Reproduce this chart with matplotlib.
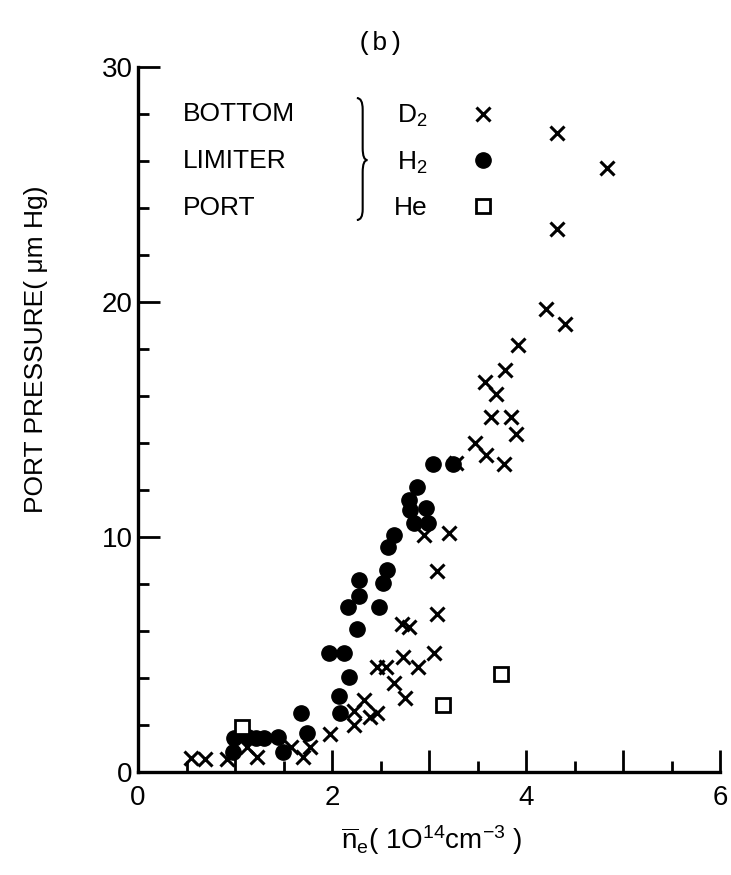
#! /usr/bin/env python3

import matplotlib
matplotlib.use("Agg")
import matplotlib.pyplot as plt
from matplotlib.ticker import MultipleLocator, FuncFormatter
from matplotlib.lines import Line2D
from matplotlib.path import Path
from matplotlib.patches import PathPatch

plt.rcParams['font.family'] = ['Liberation Sans', 'DejaVu Sans']
plt.rcParams['mathtext.default'] = 'regular'

# D2 (bottom) - crosses
d2_x = [0.55, 0.69, 0.92, 1.12, 1.23, 1.58, 1.70, 1.77, 1.98, 2.23, 2.23, 2.33,
        2.39, 2.46, 2.46, 2.56, 2.64, 2.75, 2.73, 2.89, 3.05, 2.72, 2.79, 3.08,
        3.08, 2.95, 3.21, 3.28, 3.47, 3.59, 3.77, 3.64, 3.84, 3.90, 3.58, 3.69,
        3.78, 3.92, 4.21, 4.40, 4.32, 4.32, 4.83]
d2_y = [0.6, 0.55, 0.57, 1.05, 0.62, 1.05, 0.62, 1.08, 1.6, 2.0, 2.6, 3.06,
        2.34, 2.5, 4.47, 4.47, 3.8, 3.16, 4.9, 4.47, 5.06, 6.3, 6.17, 6.72,
        8.55, 10.09, 10.17, 13.15, 14.0, 13.5, 13.1, 15.1, 15.1, 14.4, 16.6, 16.08,
        17.1, 18.17, 19.7, 19.06, 23.1, 27.2, 25.7]

# H2 (limiter) - filled circles
h2_x = [0.99, 0.98, 1.13, 1.22, 1.30, 1.44, 1.49, 1.68, 1.74, 1.97, 2.12, 2.17,
        2.07, 2.08, 2.16, 2.26, 2.28, 2.28, 2.48, 2.53, 2.57, 2.58, 2.64, 2.84,
        2.99, 2.80, 2.97, 2.79, 2.88, 3.04, 3.25]
h2_y = [1.45, 0.85, 1.48, 1.45, 1.45, 1.5, 0.85, 2.5, 1.65, 5.07, 5.07, 4.04,
        3.25, 2.5, 7.02, 6.09, 7.49, 8.15, 7.02, 8.05, 8.6, 9.57, 10.09, 10.6,
        10.6, 11.15, 11.23, 11.57, 12.13, 13.1, 13.1]

# He (port) - open squares
he_x = [1.07, 3.14, 3.74]
he_y = [1.93, 2.85, 4.18]

gas_labels = ['D$_2$', 'H$_2$', 'He']
source_labels = ['BOTTOM', 'LIMITER', 'PORT']

fig = plt.figure(figsize=(7.31, 8.75), dpi=100)
ax = fig.add_axes([0.1888, 0.1177, 0.7962, 0.8057])

ax.plot(d2_x, d2_y, 'x', color='black', ms=10, mew=2.2, clip_on=False)
ax.plot(h2_x, h2_y, 'o', color='black', ms=11, clip_on=False)
ax.plot(he_x, he_y, 's', mfc='white', mec='black', ms=10, mew=2, clip_on=False)

ax.set_xlim(0, 6)
ax.set_ylim(0, 30)

for s in ['top', 'right']:
    ax.spines[s].set_visible(False)
for s in ['left', 'bottom']:
    ax.spines[s].set_linewidth(2.4)

ax.xaxis.set_major_locator(MultipleLocator(1))
ax.xaxis.set_minor_locator(MultipleLocator(0.5))
ax.xaxis.set_major_formatter(FuncFormatter(lambda v, p: '%d' % v if int(round(v)) % 2 == 0 else ''))
ax.yaxis.set_major_locator(MultipleLocator(10))
ax.yaxis.set_minor_locator(MultipleLocator(2))

ax.tick_params(which='major', direction='in', length=16, width=2, labelsize=20)
ax.tick_params(which='minor', direction='in', length=8, width=2)
ax.tick_params(axis='x', which='major', pad=9)
ax.tick_params(axis='y', which='major', pad=4)

ax.set_ylabel('PORT PRESSURE( \u03bcm Hg)', fontsize=19)
ax.yaxis.set_label_coords(-0.155, 0.6)
ax.set_xlabel(r'$\overline{n}_e$( 1O$^{14}$cm$^{-3}$ )', fontsize=20)
ax.xaxis.set_label_coords(0.505, -0.072)

fig.text(380 / 731, 1 - 43 / 875, '(b)', ha='center', va='center',
         family='Liberation Mono', fontsize=19)

# legend block
for i, lab in enumerate(source_labels):
    ax.text(0.077, 0.933 - i * 0.0667, lab, transform=ax.transAxes,
            fontsize=19, va='center', ha='left')

handles = [Line2D([], [], ls='none', marker='x', color='black', ms=10, mew=2.2),
           Line2D([], [], ls='none', marker='o', color='black', ms=11),
           Line2D([], [], ls='none', marker='s', mfc='white', mec='black', ms=10, mew=2)]
ax.legend(handles, gas_labels, loc='upper left', bbox_to_anchor=(0.44, 0.949),
          frameon=False, markerfirst=False, fontsize=19, handlelength=1.0,
          handletextpad=1.6, labelspacing=0.77, borderpad=0, borderaxespad=0)

# brace
bx0, bx1, bx2 = 0.376, 0.386, 0.394
verts = [(bx0, 0.956), (bx1, 0.956), (bx1, 0.940),
         (bx1, 0.885),
         (bx1, 0.868), (bx2, 0.868),
         (bx1, 0.868), (bx1, 0.851),
         (bx1, 0.798),
         (bx1, 0.783), (bx0, 0.783)]
codes = [Path.MOVETO, Path.CURVE3, Path.CURVE3, Path.LINETO,
         Path.CURVE3, Path.CURVE3, Path.CURVE3, Path.CURVE3,
         Path.LINETO, Path.CURVE3, Path.CURVE3]
ax.add_patch(PathPatch(Path(verts, codes), transform=ax.transAxes,
                       fill=False, lw=1.5, color='black', clip_on=False))

plt.savefig('out.png', dpi=100)
